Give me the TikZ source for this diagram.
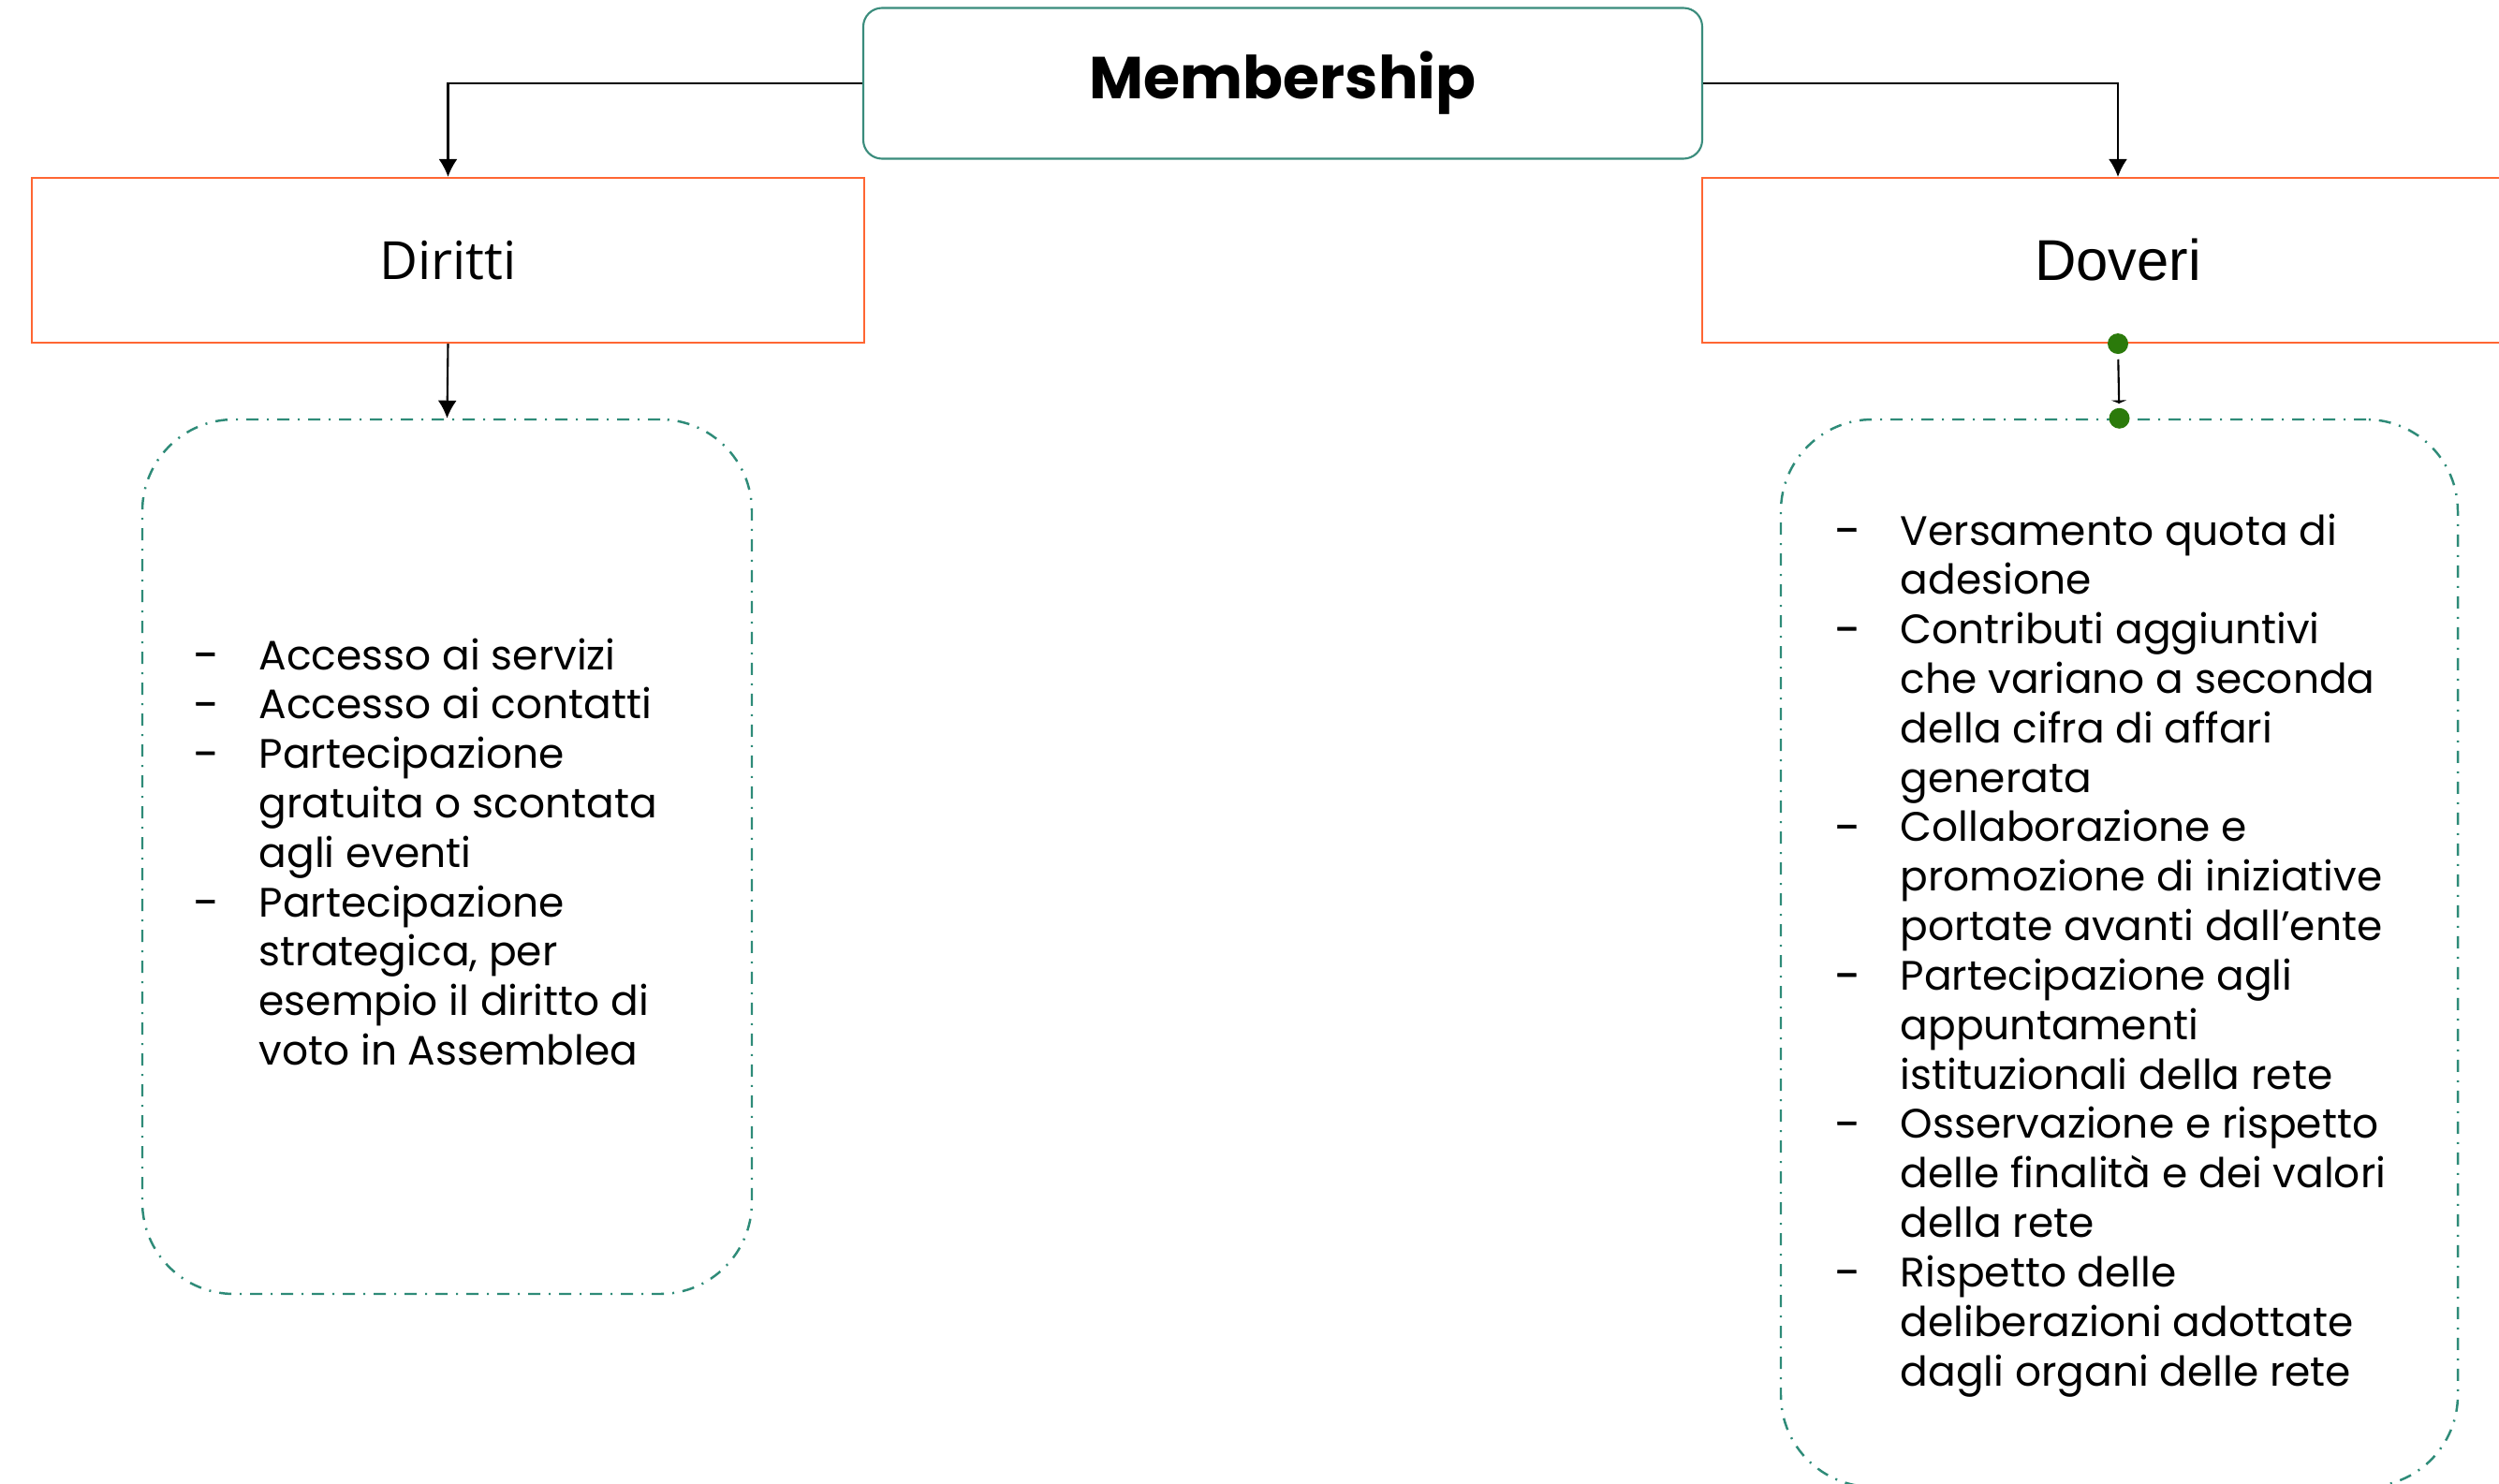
\documentclass[tikz,border=0pt]{standalone}
\usepackage{fontspec}
\setmainfont{Poppins}
\newfontfamily\ossans{Open Sans}
\newfontfamily\libsans{Liberation Sans}
\usetikzlibrary{arrows.meta}
\definecolor{tealb}{HTML}{3A8C7C}
\definecolor{tealdash}{HTML}{2E8B78}
\definecolor{orangeb}{HTML}{FF6633}
\definecolor{dotgreen}{HTML}{2B7A0B}
\newcommand{\dsh}{{\addfontfeature{FakeBold=1.2}\scalebox{1.12}[1]{-}}}
\tikzset{
  titlebox/.style={draw=tealb, line width=0.6pt, rounded corners=0.2cm, fill=white,
    minimum width=8.96cm, minimum height=1.61cm, inner sep=0pt,
    font=\fontsize{18}{22}\selectfont\bfseries},
  catbox/.style={draw=orangeb, line width=0.6pt, minimum height=1.76cm, inner sep=0pt},
  listbox/.style={draw=tealdash, line width=0.7pt, rounded corners=0.98cm,
    dash pattern=on 0.13cm off 0.09cm on 0.02cm off 0.09cm},
  conn/.style={draw=black, line width=0.6pt, -{Latex[length=0.19cm,width=0.2cm]}},
  gdot/.style={circle, fill=dotgreen, inner sep=0pt, minimum size=0.22cm},
  listtext/.style={anchor=base west, inner sep=0pt, font=\fontsize{12.5}{15.03}\selectfont}
}
\begin{document}
\begin{tikzpicture}
\useasboundingbox (0,0) rectangle (26.69,-15.85);
\node[titlebox] (mem) at (13.70,-0.89) {Membership};
\node[catbox, minimum width=8.89cm, font=\ossans\fontsize{16}{19}\selectfont] (dir) at (4.785,-2.78) {Diritti};
\node[catbox, minimum width=8.88cm, font=\libsans\fontsize{17.5}{20}\selectfont] (dov) at (22.62,-2.78) {Doveri};
\node[listbox, minimum width=6.51cm, minimum height=9.34cm] (lbox) at (4.775,-9.15) {};
\node[listbox, minimum width=7.23cm, minimum height=11.40cm] (rbox) at (22.635,-10.18) {};
\draw[conn] (mem.west) -| (dir.north);
\draw[conn] (mem.east) -| (dov.north);
\draw[conn] (dir.south) -- (lbox.north);
\node[gdot] (d1) at (dov.south) {};
\node[gdot] (d2) at (rbox.north) {};
\draw[line width=0.6pt, -{Latex[length=0.035cm,width=0.18cm]}, shorten <=0.05cm, shorten >=0.04cm] (d1) -- (d2);
\node[listtext] (ltxt) at (2.06,-7.15) {\begin{tabular}[t]{@{}p{0.70cm}@{}l@{}}
\dsh & Accesso ai servizi\\
\dsh & Accesso ai contatti\\
\dsh & Partecipazione\\
  & gratuita o scontata\\
  & agli eventi\\
\dsh & Partecipazione\\
  & strategica, per\\
  & esempio il diritto di\\
  & voto in Assemblea
\end{tabular}};
\node[listtext] (rtxt) at (19.59,-5.82) {\begin{tabular}[t]{@{}p{0.70cm}@{}l@{}}
\dsh & Versamento quota di\\
  & adesione\\
\dsh & Contributi aggiuntivi\\
  & che variano a seconda\\
  & della cifra di affari\\
  & generata\\
\dsh & Collaborazione e\\
  & promozione di iniziative\\
  & portate avanti dall’ente\\
\dsh & Partecipazione agli\\
  & appuntamenti\\
  & istituzionali della rete\\
\dsh & Osservazione e rispetto\\
  & delle finalità e dei valori\\
  & della rete\\
\dsh & Rispetto delle\\
  & deliberazioni adottate\\
  & dagli organi delle rete
\end{tabular}};
\end{tikzpicture}
\end{document}
